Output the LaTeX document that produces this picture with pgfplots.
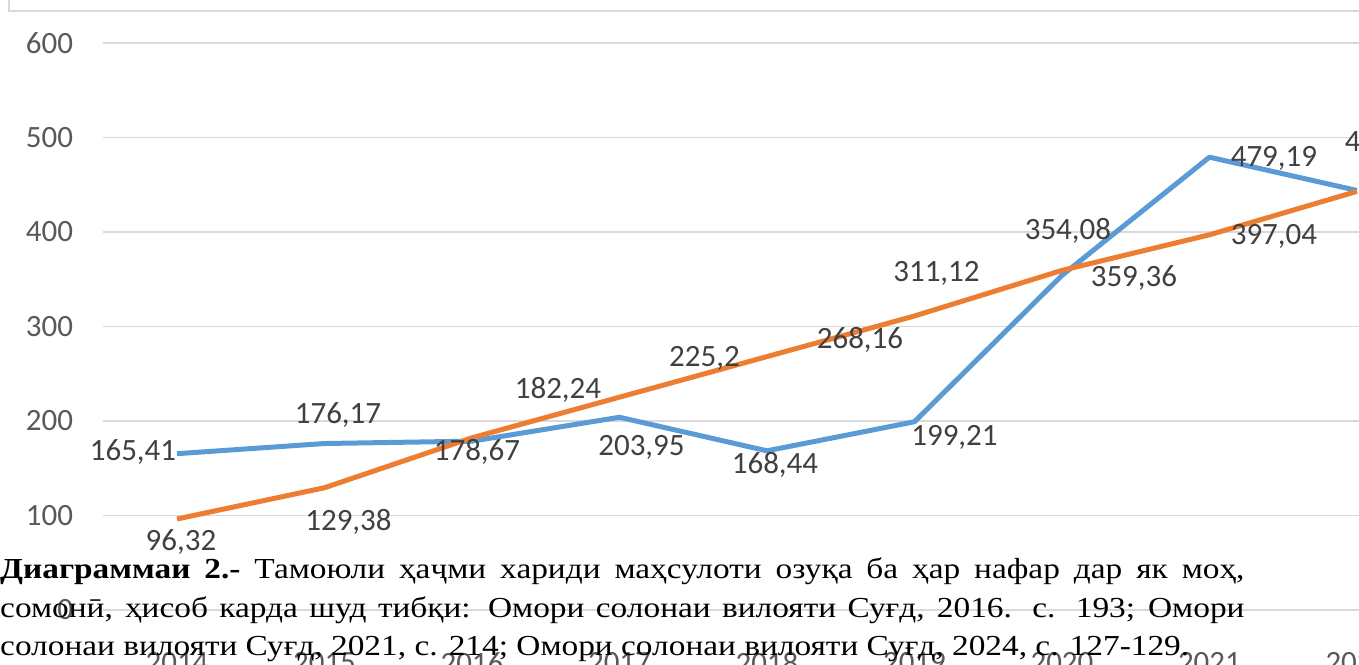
\documentclass[border=0pt]{standalone}
\usepackage{fontspec}
\setmainfont{Liberation Serif}
\newfontfamily\carlito{Carlito}
\usepackage{graphicx}
\usepackage{pgfplots}
\pgfplotsset{compat=1.18}
\usepackage{pgfplotstable}
\definecolor{sblue}{HTML}{5B9BD5}
\definecolor{sorange}{HTML}{ED7D31}
\definecolor{gridc}{HTML}{D9D9D9}
\definecolor{tickc}{HTML}{595959}
\definecolor{labc}{HTML}{404040}

\pgfplotstableread{
x y dx dy
0 165.41 -44 2
1 176.17 13.5 28.5
2 178.67 5 -11
3 203.95 22 -30
4 168.44 8 -14
5 199.21 40 -16
6 354.08 6 45
7 479.19 64.5 -1
8 443.95 31 47
}\tblue
\pgfplotstableread{
x y dx dy
0 96.32 4 -23
1 129.38 24 -34
2 182.24 86 48
3 225.2 85 39
4 268.16 93 17
5 311.12 22 43
6 359.36 72 -8
7 397.04 64.5 -2
8 443.00 64 -2
}\torange

\newcommand\capline[1]{\scalebox{1.15}[1]{\fontsize{29}{29}\selectfont #1}}

\begin{document}
\begin{tikzpicture}[x=1pt,y=1pt]
\useasboundingbox (0,0) rectangle (1359,664);
\begin{scope}
\clip (0,0) rectangle (1359,664);
\draw[gridc, line width=1.5pt] (9,700) -- (9,653) -- (1400,653);
\begin{axis}[
  at={(103.25pt,54pt)}, anchor=south west,
  width=1327.5pt, height=567pt, scale only axis,
  xmin=-0.5, xmax=8.5, ymin=0, ymax=600,
  ytick={0,100,...,600},
  xtick={0,...,8},
  xticklabels={2014,2015,2016,2017,2018,2019,2020,2021,2022},
  ymajorgrids,
  grid style={gridc, line width=1.5pt},
  axis line style={draw=none},
  major tick length=0pt,
  clip=false,
  /pgf/number format/assume math mode=true,
  yticklabel style={font=\carlito\fontsize{31}{31}\selectfont, text=tickc, anchor=east, inner sep=0pt, xshift=-30pt},
  xticklabel style={font=\carlito\fontsize{31}{31}\selectfont, text=tickc, anchor=north, inner sep=0pt, yshift=-42pt},
  nodes near coords={\pgfmathprintnumber[use comma, precision=2]{\pgfplotspointmeta}},
  visualization depends on={\thisrow{dx} \as \mydx},
  visualization depends on={\thisrow{dy} \as \mydy},
  nodes near coords style={anchor=center, inner sep=0pt, xshift=\mydx pt, yshift=\mydy pt, font=\carlito\fontsize{31}{31}\selectfont, text=labc},
]
\addplot[sblue, line width=5pt, line join=round] table[x=x, y=y] {\tblue};
\addplot[sorange, line width=5pt, line join=round] table[x=x, y=y] {\torange};
\end{axis}
\node[anchor=base west, inner sep=0pt] at (0,86) {\capline{\hbox to 1082pt{\textbf{Диаграммаи 2.-} Тамоюли ҳаҷми хариди маҳсулоти озуқа ба ҳар нафар дар як моҳ,}}};
\node[anchor=base west, inner sep=0pt] at (0,47) {\capline{\hbox to 1082pt{сомонӣ, ҳисоб карда шуд тибқи: Омори солонаи вилояти Суғд, 2016. с. 193; Омори}}};
\node[anchor=base west, inner sep=0pt] at (0,9) {\capline{солонаи вилояти Суғд, 2021, с. 214; Омори солонаи вилояти Суғд, 2024, с. 127-129.}};
\end{scope}
\end{tikzpicture}
\end{document}
